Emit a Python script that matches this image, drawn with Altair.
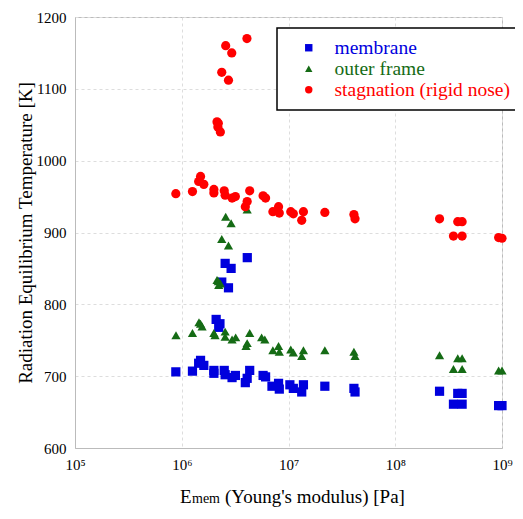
import altair as alt
import pandas as pd

FONT = "Liberation Serif, Times New Roman, Times, serif"

series = ["membrane", "outer frame", "stagnation (rigid nose)"]
colors = ["#0000dd", "#156b15", "#ff0000"]
shapes = ["square", "triangle-up", "circle"]

membrane_x = [8.8e5, 1.26e6, 1.44e6, 1.5e6, 1.61e6, 2.0e6, 2.0e6, 2.1e6, 2.28e6, 2.22e6,
              2.5e6, 2.55e6, 2.96e6, 3.18e6, 4.33e6, 4.1e6, 3.94e6, 5.78e6, 6.1e6, 7.0e6,
              8.07e6, 8.2e6, 1.03e7, 1.11e7, 1.38e7, 1.33e7, 2.19e7, 4.1e7, 4.2e7, 2.6e8,
              3.85e8, 4.23e8, 3.51e8, 4.23e8, 9.3e8, 1.0e9,
              4.11e6, 2.55e6, 2.9e6, 2.74e6, 2.37e6]
membrane_y = [706, 707, 718, 722, 715, 708, 704, 779, 773, 768,
              708, 702, 698, 701, 708, 697, 691, 701, 699, 686,
              690, 682, 688, 683, 688, 678, 686, 683, 678, 679,
              676, 676, 661, 661, 659, 659,
              865, 857, 850, 823, 831]

frame_x = [8.83e5, 1.26e6, 1.45e6, 1.5e6, 1.55e6, 2.0e6, 2.05e6, 2.55e6, 2.55e6, 2.96e6,
           3.2e6, 4.33e6, 4.1e6, 4.0e6, 5.6e6, 6.0e6, 7.14e6, 8.07e6, 8.2e6, 1.05e7,
           1.11e7, 1.38e7, 1.33e7, 2.19e7, 4.1e7, 4.2e7, 2.6e8, 3.85e8, 4.23e8, 3.51e8,
           4.23e8, 9.3e8, 1.0e9,
           2.58e6, 2.9e6, 4.1e6, 2.37e6, 2.74e6, 2.14e6, 2.2e6, 2.3e6, 2.22e6]
frame_y = [757, 760, 775, 773, 769, 760, 757, 762, 755, 751,
           754, 760, 746, 742, 754, 751, 736, 742, 734, 737,
           733, 736, 728, 736, 734, 728, 729, 725, 725, 710,
           710, 708, 708,
           922, 913, 932, 891, 882, 834, 832, 829, 827]

stag_x = [8.8e5, 1.26e6, 1.44e6, 1.5e6, 1.61e6, 2.0e6, 2.0e6, 2.5e6, 2.55e6, 2.96e6,
          3.18e6, 4.33e6, 4.1e6, 3.94e6, 5.78e6, 6.1e6, 7.14e6, 8.07e6, 8.2e6, 1.05e7,
          1.11e7, 1.38e7, 1.33e7, 2.19e7, 4.1e7, 4.2e7, 2.6e8, 3.85e8, 4.23e8, 3.51e8,
          4.23e8, 9.3e8, 1.0e9,
          2.14e6, 2.2e6, 2.18e6, 2.3e6, 2.37e6, 2.74e6, 2.58e6, 2.94e6, 4.08e6]
stag_y = [954, 957, 971, 978, 967, 960, 955, 958, 952, 948,
          950, 958, 943, 936, 951, 948, 929, 936, 927, 929,
          926, 929, 917, 928, 925, 919, 919, 915, 915, 895,
          895, 893, 892,
          1054, 1052, 1047, 1040, 1123, 1112, 1160, 1150, 1170]

x_ticks = [1e5, 1e6, 1e7, 1e8, 1e9]
y_ticks = [600, 700, 800, 900, 1000, 1100, 1200]

rows = []
for name, xs, ys in [(series[0], membrane_x, membrane_y),
                     (series[1], frame_x, frame_y),
                     (series[2], stag_x, stag_y)]:
    rows += [{"E": x, "T": y, "series": name} for x, y in zip(xs, ys)]
df = pd.DataFrame(rows)

color_expr = ("datum.value == 'membrane' ? '#0000dd' : "
              "(datum.value == 'outer frame' ? '#156b15' : '#ff0000')")

legend = alt.Legend(
    orient="none", legendX=202, legendY=11, title=None,
    strokeColor="black", fillColor="white", padding=10,
    labelFont=FONT, labelFontSize=19.5, labelLimit=400,
    labelColor={"expr": color_expr},
    symbolSize=55, symbolOffset=12, labelOffset=16, rowPadding=0,
    symbolStrokeWidth=0,
)

sup = "['\u2070','\u00b9','\u00b2','\u00b3','\u2074','\u2075','\u2076','\u2077','\u2078','\u2079']"

points = alt.Chart(df).mark_point(filled=True, opacity=1, size=85).encode(
    x=alt.X("E:Q",
            scale=alt.Scale(type="log", domain=[1e5, 1e9], nice=False),
            axis=alt.Axis(values=x_ticks, title=None,
                          labelExpr="'10' + " + sup + "[round(log(datum.value)/LN10)]",
                          labelFlush=False,
                          grid=True, gridDash=[3, 3], gridColor="#dddddd",
                          ticks=False, domainColor="#bbbbbb",
                          labelPadding=9, labelFont=FONT, labelFontSize=15,
                          labelColor="black")),
    y=alt.Y("T:Q",
            scale=alt.Scale(domain=[600, 1200], nice=False, zero=False),
            axis=alt.Axis(values=y_ticks, format="d", labelFlush=False,
                          title="Radiation Equilibrium Temperature [K]",
                          titleFont=FONT, titleFontSize=19, titleFontWeight="normal",
                          titleColor="black", titlePadding=1,
                          grid=True, gridDash=[3, 3], gridColor="#dddddd",
                          ticks=False, domainColor="#bbbbbb",
                          labelPadding=9, labelFont=FONT, labelFontSize=15,
                          labelColor="black")),
    color=alt.Color("series:N", scale=alt.Scale(domain=series, range=colors), legend=legend),
    shape=alt.Shape("series:N", scale=alt.Scale(domain=series, range=shapes), legend=legend),
)

t_E = alt.Chart(pd.DataFrame({"t": ["E"]})).mark_text(
    align="left", baseline="alphabetic", font=FONT, fontSize=19, color="black"
).encode(x=alt.value(105), y=alt.value(486), text="t:N")
t_mem = alt.Chart(pd.DataFrame({"t": ["mem"]})).mark_text(
    align="left", baseline="alphabetic", font=FONT, fontSize=14, color="black"
).encode(x=alt.value(117), y=alt.value(486), text="t:N")
t_rest = alt.Chart(pd.DataFrame({"t": ["(Young's modulus) [Pa]"]})).mark_text(
    align="left", baseline="alphabetic", font=FONT, fontSize=19, color="black"
).encode(x=alt.value(150), y=alt.value(486), text="t:N")

chart = alt.layer(points, t_E, t_mem, t_rest).properties(
    width=427, height=431,
    autosize=alt.AutoSizeParams(type="none"),
    padding={"left": 67, "top": 9, "right": 13, "bottom": 63},
    background="white",
).configure(font=FONT).configure_axis(
    labelFont=FONT, titleFont=FONT
).configure_view(stroke="#bbbbbb").configure_legend(strokeWidth=1.5)

chart.save("out.html", embed_options={"renderer": "svg", "actions": False})
